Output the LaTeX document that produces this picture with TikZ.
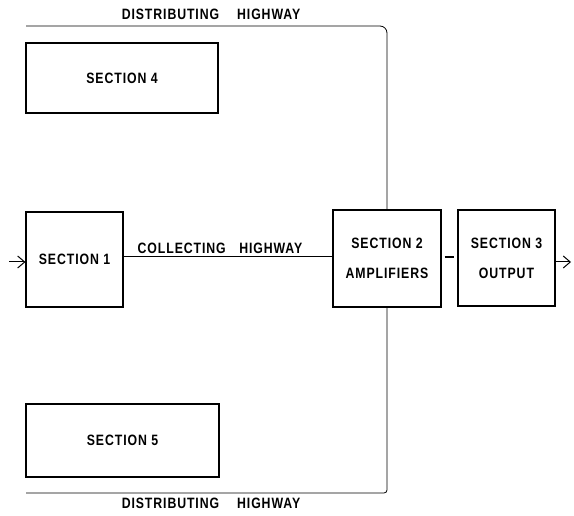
\documentclass[tikz,border=0pt]{standalone}
\usepackage{fontspec}
\setmainfont{Liberation Sans}
\newfontfamily\plotfont[FakeStretch=0.82,LetterSpace=6]{Liberation Sans}
\usepackage{tikz}
\usetikzlibrary{positioning, arrows.meta, calc}

\tikzset{
  secbox/.style={draw, line width=1.1pt, inner sep=0pt, align=center, font=\plotfont\bfseries\fontsize{15}{30}\selectfont},
  hwy/.style={line width=0.8pt},
  hwylabel/.style={font=\plotfont\bfseries\fontsize{15}{16}\selectfont, inner sep=0pt},
  flow/.style={line width=1pt, -{Straight Barb[length=7pt,width=12pt]}}
}

\begin{document}
\begin{tikzpicture}[x=1pt, y=1pt]
\useasboundingbox (0,0) rectangle (574,515);

% section boxes
\node[secbox, minimum width=192pt, minimum height=70pt] (sec4) at (122,437) {SECTION 4};
\node[secbox, minimum width=97pt, minimum height=95pt] (sec1) at (74.5,255.5) {SECTION 1};
\node[secbox, minimum width=108pt, minimum height=97pt] (sec2) at (387,256.5) {SECTION 2\\AMPLIFIERS};
\node[secbox, minimum width=97pt, minimum height=96pt] (sec3) at (506.5,257) {SECTION 3\\OUTPUT};
\node[secbox, minimum width=193pt, minimum height=73pt] (sec5) at (122.5,74.5) {SECTION 5};

% highway ends
\coordinate (topend) at (26,489);
\coordinate (botend) at (26,22);
\coordinate (inpt) at (9,253);
\coordinate (outpt) at (571,253);

% highways
\draw[hwy, rounded corners=7pt] (sec2.north) |- (topend);
\draw[hwy, rounded corners=3pt] (sec2.south) |- (botend);
\draw[hwy] (sec1.east |- 0,259) -- (sec2.west |- 0,259);
\draw[line width=1.1pt, shorten <=3pt, shorten >=3pt] (sec2.east |- 0,258) -- (sec3.west |- 0,258);

% in and out
\draw[flow] (inpt) -- (sec1.west |- inpt);
\draw[flow] (sec3.east |- outpt) -- (outpt);

% labels
\node[hwylabel] (topname) at (211,501) {DISTRIBUTING\hspace{1.2em}HIGHWAY};
\node[hwylabel] (botname) at (211,12) {DISTRIBUTING\hspace{1.2em}HIGHWAY};
\node[hwylabel] (colname) at (220,267) {COLLECTING\hspace{0.9em}HIGHWAY};
\end{tikzpicture}
\end{document}
